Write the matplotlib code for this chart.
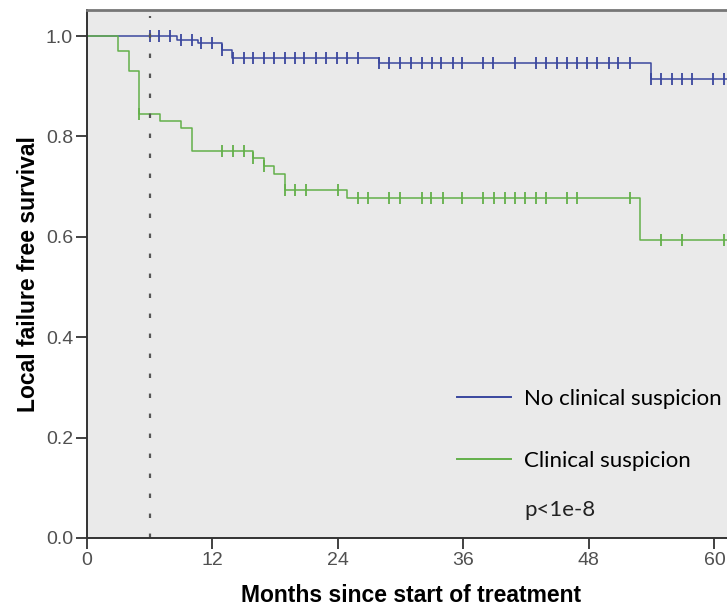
import matplotlib
matplotlib.use("Agg")
import matplotlib.pyplot as plt
import numpy as np

# Kaplan-Meier steps (months, survival after the step)
blue_times = [8.6, 10.6, 12.9, 13.9, 27.9, 53.9]
blue_surv = [0.993, 0.987, 0.972, 0.957, 0.947, 0.914]
blue_cens = [6.0, 6.9, 7.9, 9.0, 10.0, 10.9, 12.0, 12.9,
             14.0, 15.0, 15.9, 16.9, 17.9, 18.9, 19.9, 20.8, 21.9, 22.9, 23.9, 24.9, 25.9,
             27.9, 28.9, 29.9, 31.0, 32.0, 33.0, 33.9, 35.0, 35.9, 37.9, 38.8, 40.9,
             42.9, 43.9, 44.9, 45.9, 46.9, 47.8, 48.8, 49.9, 50.8, 51.9,
             53.9, 54.9, 55.9, 56.9, 57.9, 59.9, 60.9, 61.8]

green_times = [3.0, 4.0, 5.0, 7.0, 9.0, 10.0, 15.9, 16.9, 17.9, 18.9, 24.9, 52.9]
green_surv = [0.970, 0.930, 0.844, 0.831, 0.817, 0.772, 0.757, 0.742, 0.726, 0.694, 0.677, 0.593]
green_cens = [5.0, 12.9, 14.0, 15.0, 15.9, 16.9, 18.9, 19.9, 20.9, 24.0,
              25.9, 26.9, 28.9, 29.9, 32.0, 32.9, 34.0, 35.9, 37.9, 38.9, 40.0, 40.9,
              41.9, 42.9, 43.9, 45.9, 46.9, 51.9, 54.9, 56.9, 60.9]

labels = ["No clinical suspicion", "Clinical suspicion"]
xticks = [0, 12, 24, 36, 48, 60]
yticks = [0.0, 0.2, 0.4, 0.6, 0.8, 1.0]
landmark = 6
x_max = 61.9

blue = "#3a479e"
green = "#63b04a"
tick_font = "Liberation Sans"

fig = plt.figure(figsize=(7.27, 6.08), dpi=100)
ax = fig.add_axes([87 / 727, 1 - 538 / 608, 1 - 87 / 727 + 0.01, 528 / 608])
ax.set_facecolor("#eaeaea")


def km_curve(times, surv, cens, color, label):
    xs = np.concatenate([[0], times, [x_max + 1]])
    ys = np.concatenate([[1.0], surv, [surv[-1]]])
    ax.step(xs, ys, where="post", color=color, lw=1.1, label=label)
    # censor marks sit on the curve value at that time
    idx = np.searchsorted(times, cens, side="right")
    cy = np.concatenate([[1.0], surv])[idx]
    ax.plot(cens, cy, ls="none", marker="|", ms=8, mew=1.3, color=color)


km_curve(blue_times, blue_surv, blue_cens, blue, labels[0])
km_curve(green_times, green_surv, green_cens, green, labels[1])

ax.plot([landmark, landmark], [0, 1.04], ls=(0, (2, 7)), color="#555555", lw=1.6)

ax.set_xlim(0, x_max)
ax.set_ylim(0, 1.052)
ax.set_xticks(xticks)
ax.set_yticks(yticks)
ax.set_yticklabels(["%.1f" % v for v in yticks])
for lab in ax.get_xticklabels() + ax.get_yticklabels():
    lab.set_family(tick_font)
    lab.set_fontsize(14)
    lab.set_color("#505050")
ax.tick_params(direction="out", length=8, width=1.3, color="#333333", pad=2)

for side in ["left", "bottom"]:
    ax.spines[side].set_color("#333333")
    ax.spines[side].set_linewidth(1.4)
ax.spines["top"].set_color("#777777")
ax.spines["top"].set_linewidth(2)
ax.spines["right"].set_visible(False)

ax.set_xlabel("Months since start of treatment", fontsize=16.5, fontweight="bold",
              family=tick_font, labelpad=11)
ax.set_ylabel("Local failure free survival", fontsize=16.5, fontweight="bold",
              family=tick_font, labelpad=4)

leg = ax.legend(loc="center left", bbox_to_anchor=(0.54, 0.205), frameon=False,
                prop={"family": "Lato", "size": 16}, handlelength=2.45,
                handletextpad=0.6, labelspacing=1.9)
for h in leg.get_lines():
    h.set_linewidth(1.4)
ax.text(0.676, 0.053, "p<1e-8", transform=ax.transAxes, family="Lato", fontsize=16,
        va="center", ha="left", color="#222222")

fig.savefig("out.png", dpi=100)
